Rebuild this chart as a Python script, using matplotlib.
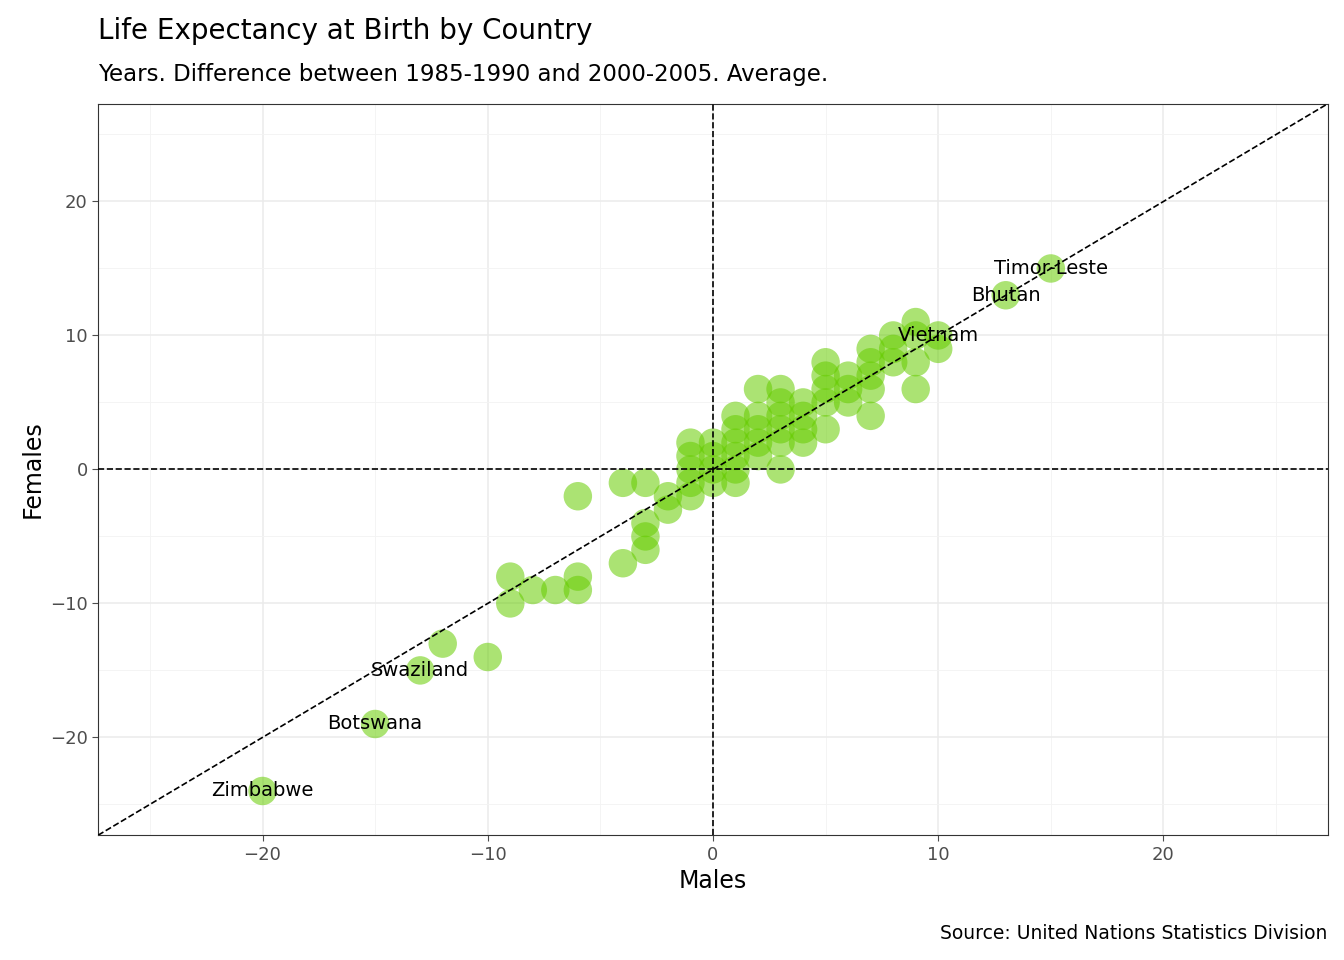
import matplotlib.pyplot as plt
import numpy as np

males = [15, 13, 10, 10, 9, 9, 9, 9, 8, 8, 8, 7, 7, 7, 7, 7, 6, 6, 6, 5, 5, 5, 5, 5,
         4, 4, 4, 4, 3, 3, 3, 3, 3, 3, 2, 2, 2, 2, 2, 1, 1, 1, 1, 1, 1, 0, 0, 0, 0,
         -1, -1, -1, -1, -1, -2, -2, -3, -3, -3, -3, -4, -4, -6, -6, -6, -7, -8, -9, -9,
         -10, -12, -13, -15, -20]
females = [15, 13, 10, 9, 11, 10, 8, 6, 10, 9, 8, 9, 8, 7, 6, 4, 7, 6, 5, 8, 7, 6, 5, 3,
           5, 4, 3, 2, 6, 5, 4, 3, 2, 0, 6, 4, 3, 2, 1, 4, 3, 2, 1, 0, -1, 2, 1, 0, -1,
           2, 1, 0, -1, -2, -2, -3, -1, -4, -5, -6, -1, -7, -2, -8, -9, -9, -9, -8, -10,
           -14, -13, -15, -19, -24]
labels = {"Timor-Leste": (15, 15), "Bhutan": (13, 13), "Vietnam": (10, 10),
          "Swaziland": (-13, -15), "Botswana": (-15, -19), "Zimbabwe": (-20, -24)}

fig = plt.figure(figsize=(13.44, 9.6), dpi=100)
ax = fig.add_axes([0.073, 0.130, 0.915, 0.762])
lim = 27.3
ax.set_xlim(-lim, lim)
ax.set_ylim(-lim, lim)
ax.set_xticks([-20, -10, 0, 10, 20])
ax.set_yticks([-20, -10, 0, 10, 20])
ax.set_xticks([-25, -15, -5, 5, 15, 25], minor=True)
ax.set_yticks([-25, -15, -5, 5, 15, 25], minor=True)
ax.grid(True, which="major", color="#ebebeb", lw=1.1)
ax.grid(True, which="minor", color="#f3f3f3", lw=0.6)
ax.set_axisbelow(True)
ax.tick_params(which="minor", length=0)
ax.tick_params(which="major", labelsize=13, colors="#4d4d4d", length=4)
for s in ax.spines.values():
    s.set_color("#333333")

ax.scatter(males, females, s=420, color="#66cc00", alpha=0.55, edgecolors="none", zorder=2)
ax.axhline(0, color="black", ls="--", lw=1.2, zorder=3)
ax.axvline(0, color="black", ls="--", lw=1.2, zorder=3)
ax.plot([-lim, lim], [-lim, lim], color="black", ls="--", lw=1.2, zorder=3)
for name, (x, y) in labels.items():
    ax.text(x, y, name, ha="center", va="center", fontsize=14, zorder=4)

ax.set_xlabel("Males", fontsize=17)
ax.set_ylabel("Females", fontsize=17)
fig.text(0.073, 0.968, "Life Expectancy at Birth by Country", fontsize=20, va="center")
fig.text(0.073, 0.922, "Years. Difference between 1985-1990 and 2000-2005. Average.", fontsize=16.5, va="center")
fig.text(0.988, 0.028, "Source: United Nations Statistics Division", fontsize=13.5, ha="right", va="center")
fig.savefig("out.png", dpi=100)
